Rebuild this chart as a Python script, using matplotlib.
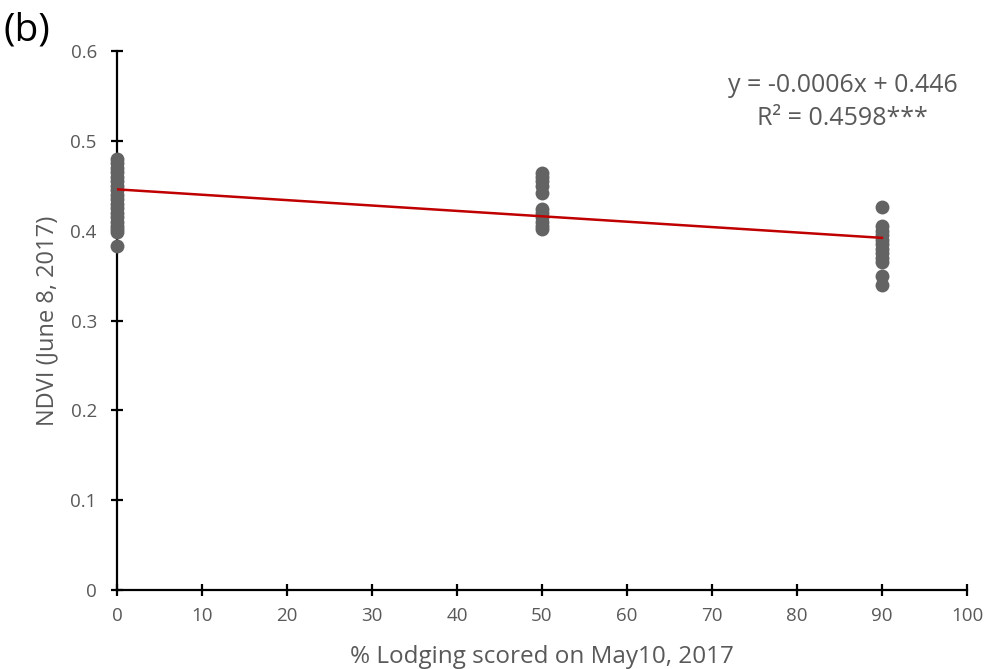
import matplotlib
matplotlib.use("Agg")
import matplotlib.pyplot as plt
import numpy as np

# Lodging score groups and measured NDVI values
lodging_0 = [0.383, 0.398, 0.402, 0.405, 0.410, 0.415, 0.420, 0.425, 0.430, 0.435,
             0.440, 0.445, 0.450, 0.455, 0.460, 0.465, 0.470, 0.475, 0.480]
lodging_50 = [0.464, 0.460, 0.455, 0.450, 0.442, 0.424, 0.420, 0.415, 0.410, 0.405, 0.402]
lodging_90 = [0.426, 0.405, 0.400, 0.395, 0.390, 0.385, 0.380, 0.375, 0.370, 0.365,
              0.350, 0.340]

slope = -0.0006
intercept = 0.446
fit_x = [0, 90]

x_ticks = [0, 10, 20, 30, 40, 50, 60, 70, 80, 90, 100]
y_ticks = [0, 0.1, 0.2, 0.3, 0.4, 0.5, 0.6]
y_tick_labels = ["0", "0.1", "0.2", "0.3", "0.4", "0.5", "0.6"]

plt.rcParams['font.family'] = ['Open Sans', 'DejaVu Sans']

grey = "#595959"
fig = plt.figure(figsize=(9.87, 6.69), dpi=100)
ax = fig.add_axes([0.1185, 0.118, 0.8612, 0.8058])

xs = [0] * len(lodging_0) + [50] * len(lodging_50) + [90] * len(lodging_90)
ys = lodging_0 + lodging_50 + lodging_90
ax.scatter(xs, ys, s=100, color="#636363", zorder=5, linewidths=0, clip_on=False)

fit_y = [slope * x + intercept for x in fit_x]
ax.plot(fit_x, fit_y, color="#C00000", lw=1.8, zorder=6)

ax.set_xlim(0, 100)
ax.set_ylim(0, 0.6)
ax.set_xticks(x_ticks)
ax.set_yticks(y_ticks)
ax.set_yticklabels(y_tick_labels)

for side in ("top", "right"):
    ax.spines[side].set_visible(False)
for side in ("left", "bottom"):
    ax.spines[side].set_linewidth(1.6)
    ax.spines[side].set_color("black")
ax.tick_params(axis="both", direction="inout", length=9, width=1.6,
               colors="black", labelcolor=grey, labelsize=13.5)
ax.tick_params(axis="x", pad=8)
ax.tick_params(axis="y", pad=10)

ax.set_xlabel("% Lodging scored on May10, 2017", color=grey, fontsize=17.5, labelpad=14)
ax.set_ylabel("NDVI (June 8, 2017)", color=grey, fontsize=17, labelpad=8)

ax.text(0.854, 0.905, "y = -0.0006x + 0.446\nR² = 0.4598***", transform=ax.transAxes,
        ha="center", va="center", color=grey, fontsize=18, linespacing=1.4)

fig.text(0.004, 0.955, "(b)", color="black", fontsize=28, ha="left", va="center")

fig.savefig("out.png", dpi=100)
